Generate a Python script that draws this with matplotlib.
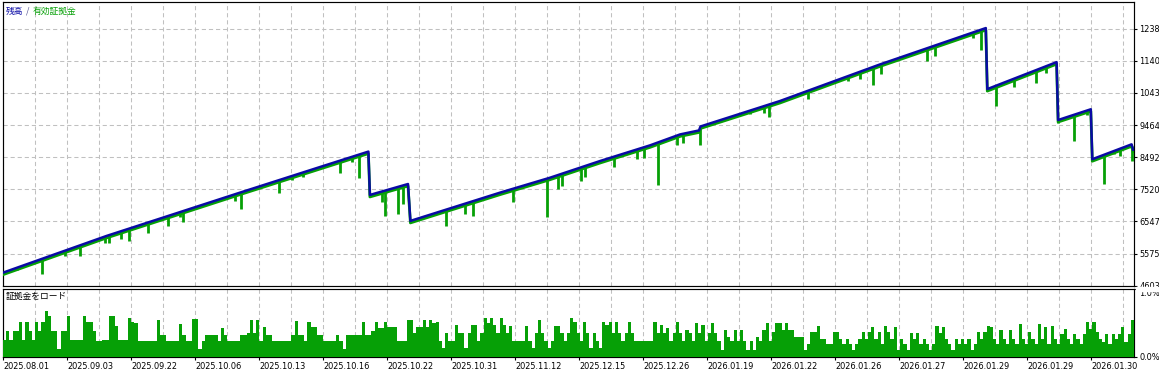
import numpy as np
import matplotlib.pyplot as plt
import matplotlib.transforms as mtransforms
from matplotlib.patches import Rectangle

# balance curve (deal index -> value)
bal_idx = [0, 34.5, 79, 105, 121.8, 122.3, 135, 135.8, 165.7, 182.3, 199, 215.7,
           225.7, 232, 232.5, 259, 292.3, 327.6, 328.1, 351.2, 351.7, 362.6, 363.1,
           376.2, 376.7]
bal_val = [5000, 6110, 7420, 8175, 8660, 7350, 7680, 6565, 7420, 7870, 8375, 8850,
           9180, 9300, 9420, 10190, 11295, 12395, 10550, 11365, 9615, 9940, 8430,
           8880, 8720]

# equity dips below balance
spike_idx = [4.8, 12.9, 20.7, 25.7, 34, 35.4, 39.3, 42.1, 48.2, 54.9, 59, 60.1, 77.3,
             79.2, 91.9, 96.2, 99.9, 112.3, 116.2, 118.7, 122.3, 126.2, 127.3, 131.6,
             133.2, 147.6, 154, 156.6, 170.1, 181.2, 185.1, 186.2, 192.6, 194, 203.8,
             211.2, 213.7, 218.2, 224.6, 226.6, 232.3, 249, 253.7, 255.2, 268.3, 281.8,
             285.7, 289.9, 292.8, 307.9, 310.7, 323.4, 325.9, 328.1, 330.9, 337, 344.2,
             347.7, 351.7, 357.1, 361.2, 363.1, 367.1, 370.3, 372.3, 376.4]
spike_low = [5075, 4973, 5489, 5507, 5912, 5912, 6012, 5962, 6185, 6396, 6668, 6517, 7166,
             6936, 7419, 7799, 7902, 8001, 8333, 7850, 7320, 7126, 6722, 6763,
             7064, 6396, 6768, 6718, 7144, 6694, 7540, 7618, 7769, 7902, 8204,
             8446, 8464, 7660, 8856, 8929, 8856, 9784, 9834, 9714, 10258, 10790,
             10862, 10660, 11013, 11393, 11544, 12100, 11726, 10488, 10035, 10608, 10720,
             11022, 9533, 8977, 9754, 8381, 7691, 8577, 8526, 8376]

# margin load in percent
load_a = [0.25, 0.38, 0.25, 0.38, 0.38, 0.51, 0.25, 0.51, 0.38, 0.25,
          0.51, 0.38, 0.51, 0.67, 0.61, 0.38, 0.38, 0.12, 0.38, 0.38,
          0.61, 0.25, 0.25, 0.25, 0.25, 0.61, 0.51, 0.51, 0.38, 0.23,
          0.23, 0.25, 0.25, 0.60, 0.60, 0.45, 0.25, 0.25, 0.25, 0.58,
          0.51, 0.50, 0.23, 0.23, 0.23, 0.23, 0.23, 0.23, 0.55, 0.32,
          0.32, 0.23, 0.23, 0.23, 0.23, 0.49, 0.32, 0.23, 0.23, 0.56,
          0.56, 0.12, 0.23, 0.32, 0.32, 0.32, 0.32, 0.23, 0.42, 0.32,
          0.23, 0.23, 0.23, 0.23, 0.32, 0.32, 0.35, 0.55, 0.35, 0.54,
          0.23, 0.44, 0.32, 0.32, 0.23, 0.23, 0.23, 0.23, 0.23, 0.23,
          0.32, 0.53, 0.32, 0.32, 0.23, 0.52, 0.44, 0.44, 0.32, 0.32,
          0.23, 0.23, 0.23, 0.23, 0.32, 0.23, 0.12, 0.32, 0.32, 0.32,
          0.32, 0.32, 0.51, 0.32, 0.32, 0.38, 0.51, 0.42, 0.42, 0.51,
          0.44, 0.44, 0.44, 0.23, 0.23, 0.23, 0.55, 0.55, 0.36, 0.44,
          0.44, 0.55, 0.44]
load_b = [0.545, 0.50, 0.52, 0.23, 0.13, 0.35, 0.23, 0.23, 0.47, 0.35,
          0.35, 0.13, 0.35, 0.47, 0.47, 0.23, 0.35, 0.57, 0.50, 0.57,
          0.47, 0.35, 0.57, 0.47, 0.35, 0.45, 0.23, 0.23, 0.23, 0.23,
          0.45, 0.23, 0.13, 0.35, 0.545, 0.35, 0.23, 0.13, 0.23, 0.45,
          0.45, 0.35, 0.23, 0.35, 0.57, 0.52, 0.35, 0.23, 0.52, 0.35,
          0.13, 0.35, 0.23, 0.13, 0.52, 0.47, 0.52, 0.35, 0.52, 0.35,
          0.23, 0.35, 0.52, 0.35, 0.23, 0.23, 0.23, 0.23, 0.23, 0.23,
          0.52, 0.35, 0.47, 0.35, 0.42, 0.23, 0.35, 0.52, 0.35, 0.23,
          0.40, 0.35, 0.23, 0.50, 0.35, 0.47, 0.23, 0.35, 0.50, 0.35,
          0.23, 0.11, 0.40, 0.30, 0.23, 0.40, 0.23, 0.40, 0.23, 0.11,
          0.23, 0.11, 0.30, 0.23, 0.40, 0.50, 0.23, 0.37, 0.50, 0.50,
          0.40, 0.50, 0.40, 0.40]
load_c = [0.30, 0.29, 0.29, 0.10, 0.195, 0.365, 0.365, 0.46, 0.27, 0.27,
          0.195, 0.195, 0.365, 0.365, 0.27, 0.195, 0.27, 0.195, 0.10, 0.195,
          0.27, 0.365, 0.27, 0.365, 0.44, 0.27, 0.365, 0.195, 0.46, 0.365,
          0.27, 0.44, 0.10, 0.27, 0.195, 0.10, 0.35, 0.27, 0.35, 0.195,
          0.27, 0.195, 0.10, 0.195, 0.45, 0.35, 0.44, 0.27, 0.195, 0.10,
          0.27, 0.195, 0.27, 0.195, 0.27, 0.10, 0.195, 0.365, 0.27, 0.365,
          0.46, 0.44, 0.27, 0.195, 0.40, 0.27, 0.195, 0.39, 0.27, 0.195,
          0.49, 0.27, 0.195, 0.365, 0.27, 0.195, 0.49, 0.27, 0.44, 0.195,
          0.46, 0.27, 0.195, 0.34, 0.41, 0.27, 0.195, 0.34, 0.27, 0.195,
          0.34, 0.51, 0.41, 0.51, 0.365, 0.27, 0.22, 0.34, 0.195, 0.34,
          0.27, 0.34, 0.44, 0.22, 0.34, 0.545]
margin_load = load_a + load_b + load_c

y_ticks = [4603, 5575, 6547, 7520, 8492, 9464, 10437, 11409, 12381]
x_labels = ["2025.08.01", "2025.09.03", "2025.09.22", "2025.10.06", "2025.10.13",
            "2025.10.16", "2025.10.22", "2025.10.31", "2025.11.12", "2025.12.15",
            "2025.12.26", "2026.01.19", "2026.01.22", "2026.01.26", "2026.01.27",
            "2026.01.29", "2026.01.29", "2026.01.30"]

BLUE = "#0a0aa5"
GREEN = "#06a006"
GRID = "#c0c0c0"
plt.rcParams['font.family'] = ['DejaVu Sans']
cjk = ['Noto Sans CJK JP', 'DejaVu Sans']
fs = 5.9

W, H = 1159, 374
fig = plt.figure(figsize=(W / 100, H / 100), dpi=100)


def px_box(x0, y0, x1, y1):
    return [x0 / W, 1 - y1 / H, (x1 - x0) / W, (y1 - y0) / H]


ax = fig.add_axes(px_box(3, 1.5, 1134, 286.2))
ax2 = fig.add_axes(px_box(3, 289.0, 1134, 357))

n_deals = 377
ax.set_xlim(0, n_deals)
ax.set_ylim(4603 - 0.4 * 30.19, 4603 + 284.7 * 30.19)

# green equity band just under the blue balance line
shift = mtransforms.offset_copy(ax.transData, fig, x=0, y=-2.0, units='dots')
ax.plot(bal_idx, bal_val, color=GREEN, lw=2.0, transform=shift, zorder=3)
tops = np.interp(spike_idx, bal_idx, bal_val)
ax.vlines(spike_idx, spike_low, tops, color=GREEN, lw=2.0, zorder=3)
ax.plot(bal_idx, bal_val, color=BLUE, lw=1.8, zorder=4)

# grid every 32 px
grid_x = np.arange(36) * n_deals * 32 / 1131
dash = (0, (4, 2.8))
ax.set_xticks(grid_x)
ax.tick_params(axis='x', length=0, labelbottom=False)
ax.set_yticks(y_ticks)
ax.set_yticklabels([str(v) for v in y_ticks])
ax.yaxis.tick_right()
ax.tick_params(axis='y', length=2.2, width=0.8, pad=1.5, labelsize=fs)
ax.grid(True, color=GRID, lw=0.75, linestyle=dash)

# margin load panel
pos = np.linspace(0, n_deals, len(margin_load) + 1)[:-1]
ax2.bar(pos, margin_load, width=n_deals / len(margin_load), align='edge',
        color=GREEN, linewidth=0, zorder=3)
ax2.set_xlim(0, n_deals)
ax2.set_ylim(0, 1.0)
ax2.set_xticks(grid_x[::2])
ax2.set_xticklabels(x_labels, ha='left')
ax2.set_xticks(grid_x[1::2], minor=True)
ax2.tick_params(axis='x', which='major', length=2, width=0.8, pad=1.8, labelsize=fs)
ax2.tick_params(axis='x', which='minor', length=0)
ax2.grid(True, axis='x', which='both', color=GRID, lw=0.75, linestyle=dash)
ax2.set_yticks([0, 1.0])
ax2.set_yticklabels(['0.0%', '1.0%'])
ax2.yaxis.tick_right()
ax2.tick_params(axis='y', length=2.2, width=0.8, pad=1.5, labelsize=fs)
ax2.get_yticklabels()[1].set_verticalalignment('top')

for a in (ax, ax2):
    for s in a.spines.values():
        s.set_linewidth(0.85)
    a.set_axisbelow(True)

# titles
ty = (286.6 - 11) / 285.1
ax.text((6 - 3) / 1131, ty, "残高", color=BLUE, fontsize=6.3, family=cjk,
        va='center', ha='left', transform=ax.transAxes)
ax.text((25.5 - 3) / 1131, ty, "/", color="#505090", fontsize=6.3, family=cjk,
        va='center', ha='left', transform=ax.transAxes)
ax.text((33 - 3) / 1131, ty, "有効証拠金", color=GREEN, fontsize=6.3, family=cjk,
        va='center', ha='left', transform=ax.transAxes)
ax2.text((6 - 3) / 1131, (357 - 296.5) / 68, "証拠金をロード", color="black",
         fontsize=6.3, family=cjk, va='center', ha='left', transform=ax2.transAxes)

# lower window hides the bottom half of the last price label
fig.patches.append(Rectangle((1135.5 / W, 1 - 291 / H), 30 / W, 3.8 / H,
                             transform=fig.transFigure, color='white', zorder=5))

fig.savefig("out.png", dpi=100)
